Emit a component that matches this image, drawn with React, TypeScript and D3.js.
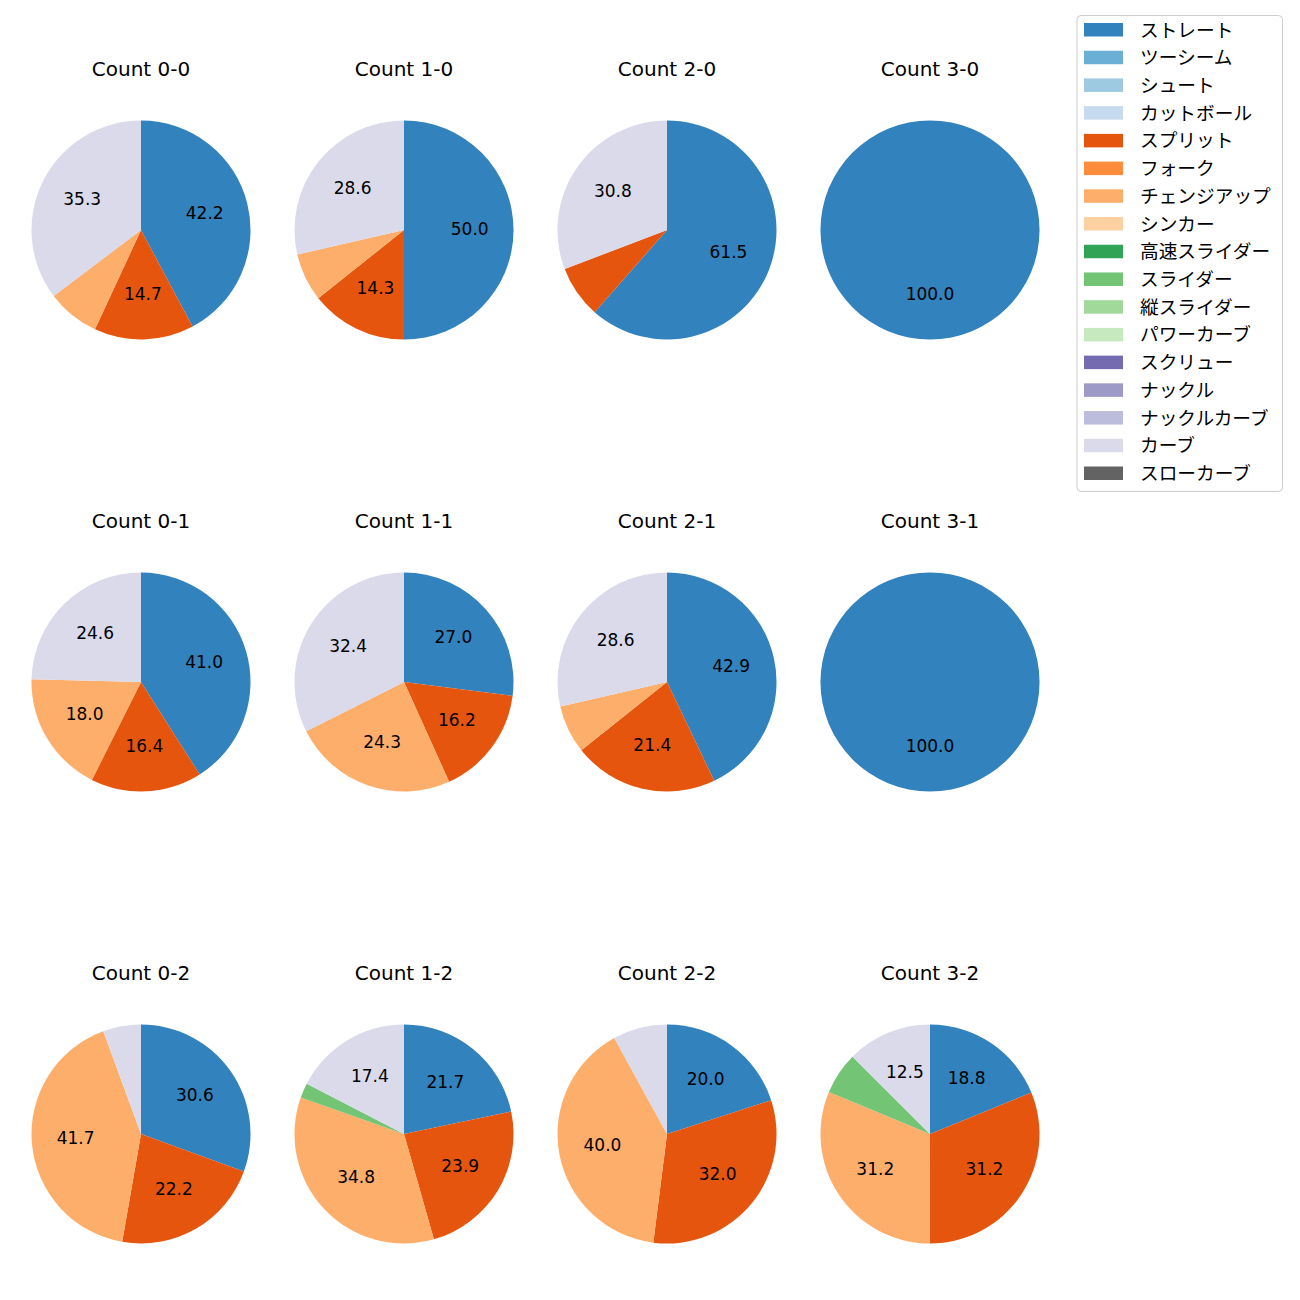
import React from "react";
import * as d3 from "d3";

const pitchTypes = [
  "ストレート", "ツーシーム", "シュート", "カットボール", "スプリット", "フォーク",
  "チェンジアップ", "シンカー", "高速スライダー", "スライダー", "縦スライダー",
  "パワーカーブ", "スクリュー", "ナックル", "ナックルカーブ", "カーブ", "スローカーブ",
];
const pitchColors = [
  "#3182bd", "#6baed6", "#9ecae1", "#c6dbef", "#e6550d", "#fd8d3c",
  "#fdae6b", "#fdd0a2", "#31a354", "#74c476", "#a1d99b", "#c7e9c0",
  "#756bb1", "#9e9ac8", "#bcbddc", "#dadaeb", "#636363",
];

const countLabels = [
  "Count 0-0", "Count 1-0", "Count 2-0", "Count 3-0",
  "Count 0-1", "Count 1-1", "Count 2-1", "Count 3-1",
  "Count 0-2", "Count 1-2", "Count 2-2", "Count 3-2",
];

// percentages per pitch type (legend order): [type, pct]
const c00: [string, number][] = [["ストレート", 42.2], ["スプリット", 14.7], ["チェンジアップ", 7.8], ["カーブ", 35.3]];
const c10: [string, number][] = [["ストレート", 50.0], ["スプリット", 14.3], ["チェンジアップ", 7.1], ["カーブ", 28.6]];
const c20: [string, number][] = [["ストレート", 61.5], ["スプリット", 7.7], ["カーブ", 30.8]];
const c30: [string, number][] = [["ストレート", 100.0]];
const c01: [string, number][] = [["ストレート", 41.0], ["スプリット", 16.4], ["チェンジアップ", 18.0], ["カーブ", 24.6]];
const c11: [string, number][] = [["ストレート", 27.0], ["スプリット", 16.2], ["チェンジアップ", 24.3], ["カーブ", 32.4]];
const c21: [string, number][] = [["ストレート", 42.9], ["スプリット", 21.4], ["チェンジアップ", 7.1], ["カーブ", 28.6]];
const c31: [string, number][] = [["ストレート", 100.0]];
const c02: [string, number][] = [["ストレート", 30.6], ["スプリット", 22.2], ["チェンジアップ", 41.7], ["カーブ", 5.6]];
const c12: [string, number][] = [["ストレート", 21.7], ["スプリット", 23.9], ["チェンジアップ", 34.8], ["スライダー", 2.2], ["カーブ", 17.4]];
const c22: [string, number][] = [["ストレート", 20.0], ["スプリット", 32.0], ["チェンジアップ", 40.0], ["カーブ", 8.0]];
const c32: [string, number][] = [["ストレート", 18.8], ["スプリット", 31.2], ["チェンジアップ", 31.2], ["スライダー", 6.2], ["カーブ", 12.5]];

const pieData = [c00, c10, c20, c30, c01, c11, c21, c31, c02, c12, c22, c32];

const FONT = "'DejaVu Sans', 'Noto Sans CJK JP', sans-serif";
const JFONT = "'Noto Sans CJK JP', 'DejaVu Sans', sans-serif";

export default function App() {
  const color = d3.scaleOrdinal<string, string>().domain(pitchTypes).range(pitchColors);
  const colX = d3.scalePoint<number>().domain([0, 1, 2, 3]).range([141, 930]);
  const rowY = d3.scalePoint<number>().domain([0, 1, 2]).range([230, 1134]);
  const R = 109.5;
  const pie = d3.pie<[string, number]>().sort(null).value((d) => d[1]).startAngle(0).endAngle(2 * Math.PI);
  const arc = d3.arc<d3.PieArcDatum<[string, number]>>().innerRadius(0).outerRadius(R);
  const labelArc = d3.arc<d3.PieArcDatum<[string, number]>>().innerRadius(R * 0.6).outerRadius(R * 0.6);

  const legendY = d3.scaleLinear().domain([0, pitchTypes.length - 1]).range([29.5, 473]);

  return (
    <svg width={1300} height={1300} style={{ position: "absolute", left: 0, top: 0, background: "#fff" }} fontFamily={FONT}>
      <rect width={1300} height={1300} fill="#fff" />
      {pieData.map((data, i) => {
        const cx = colX(i % 4)!;
        const cy = rowY(Math.floor(i / 4))!;
        const arcs = pie(data);
        return (
          <g key={i} transform={`translate(${cx},${cy})`}>
            <text x={0} y={-154} textAnchor="middle" fontSize={20} fill="#000">{countLabels[i]}</text>
            {arcs.map((a, j) => (
              <path key={j} d={arc(a)!} fill={color(a.data[0])} />
            ))}
            {arcs.map((a, j) => {
              if (a.data[1] < 10) return null;
              const [lx, ly] = labelArc.centroid(a);
              return (
                <text key={"l" + j} x={lx} y={ly - 1.5} textAnchor="middle" dominantBaseline="central" fontSize={17} fill="#000">
                  {a.data[1].toFixed(1)}
                </text>
              );
            })}
          </g>
        );
      })}
      <g>
        <rect x={1077} y={15.5} width={205.5} height={476} rx={4} fill="#fff" stroke="#cccccc" strokeWidth={1} />
        {pitchTypes.map((p, i) => (
          <g key={p} transform={`translate(0,${legendY(i)})`}>
            <rect x={1084} y={-6.5} width={39} height={13.5} fill={color(p)} />
            <text x={1140} y={-1.5} dominantBaseline="central" fontSize={18.7} fontFamily={JFONT} fill="#000">{p}</text>
          </g>
        ))}
      </g>
    </svg>
  );
}
